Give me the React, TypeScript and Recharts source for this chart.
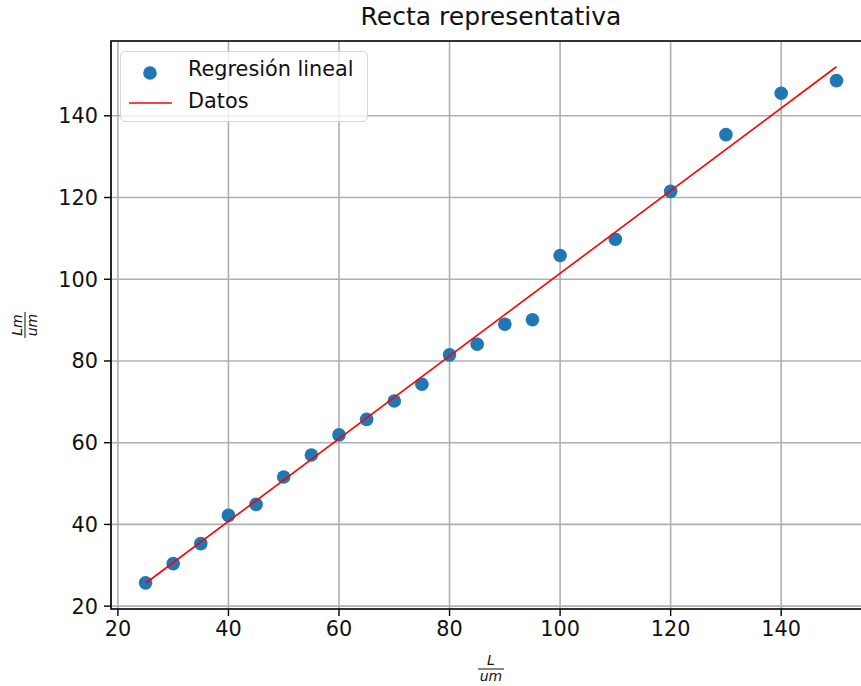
import React from "react";
import {
  ScatterChart,
  Scatter,
  XAxis,
  YAxis,
  CartesianGrid,
  ReferenceArea,
  Label,
} from "recharts";

// Measured points
const xValues = [25, 30, 35, 40, 45, 50, 55, 60, 65, 70, 75, 80, 85, 90, 95, 100, 110, 120, 130, 140, 150];
const yValues = [25.7, 30.4, 35.3, 42.2, 44.9, 51.6, 57.0, 61.9, 65.7, 70.2, 74.3, 81.5, 84.1, 89.0, 90.1, 105.8, 109.8, 121.5, 135.4, 145.5, 148.6];

// Fitted straight line (end points)
const fitX = [25, 150];
const fitY = [25.6, 152.0];

const xTicks = [20, 40, 60, 80, 100, 120, 140];
const yTicks = [20, 40, 60, 80, 100, 120, 140];

const scatterName = "Regresión lineal";
const lineName = "Datos";
const titleText = "Recta representativa";

const xDomain: [number, number] = [18.75, 156.25];
const yDomain: [number, number] = [19.3, 158.3];

const points = xValues.map((x, i) => ({ x, y: yValues[i] }));
const fitPoints = fitX.map((x, i) => ({ x, y: fitY[i] }));

const FONT = "'DejaVu Sans', sans-serif";
const BLUE = "#1f77b4";
const RED = "#ff0000";
const TEXT = "#111";

const XFraction = (props: any) => {
  const vb = props.viewBox || {};
  const cx = vb.x + vb.width / 2;
  const y0 = vb.y;
  return (
    <g fontFamily={FONT} fontStyle="italic" fill={TEXT} fontSize={14}>
      <text x={cx} y={y0 + 56} textAnchor="middle">L</text>
      <line x1={cx - 13} x2={cx + 13} y1={y0 + 60} y2={y0 + 60} stroke={TEXT} strokeWidth={1} />
      <text x={cx} y={y0 + 72} textAnchor="middle">um</text>
    </g>
  );
};

const YFraction = (props: any) => {
  const vb = props.viewBox || {};
  const cy = vb.y + vb.height / 2;
  const cx = 25;
  return (
    <g fontFamily={FONT} fontStyle="italic" fill={TEXT} fontSize={14} transform={`rotate(-90, ${cx}, ${cy})`}>
      <text x={cx} y={cy - 3} textAnchor="middle">Lm</text>
      <line x1={cx - 13} x2={cx + 13} y1={cy} y2={cy} stroke={TEXT} strokeWidth={1} />
      <text x={cx} y={cy + 12} textAnchor="middle">um</text>
    </g>
  );
};

const LegendBox = () => (
  <div
    style={{
      position: "absolute",
      left: 120,
      top: 51,
      width: 246,
      height: 69,
      border: "1px solid #d6d6d6",
      borderRadius: 5,
      background: "rgba(255,255,255,0.8)",
      fontFamily: FONT,
      fontSize: 20.8,
      color: TEXT,
      zIndex: 2,
    }}
  >
    <svg width={60} height={69} style={{ position: "absolute", left: 0, top: 0 }}>
      <circle cx={29} cy={21} r={6.8} fill={BLUE} />
      <line x1={8} x2={51} y1={51} y2={51} stroke={RED} strokeWidth={1.6} />
    </svg>
    <div style={{ position: "absolute", left: 67, top: 4, whiteSpace: "nowrap", lineHeight: "26px" }}>{scatterName}</div>
    <div style={{ position: "absolute", left: 67, top: 36, whiteSpace: "nowrap", lineHeight: "26px" }}>{lineName}</div>
  </div>
);

export default function App() {
  return (
    <div
      style={{
        position: "absolute",
        left: 0,
        top: 0,
        width: 861,
        height: 686,
        overflow: "hidden",
        background: "#fff",
      }}
    >
      <div
        style={{
          position: "absolute",
          left: 0,
          width: 982,
          top: 0,
          textAlign: "center",
          fontFamily: FONT,
          fontSize: 25,
          lineHeight: "34px",
          color: TEXT,
          zIndex: 2,
        }}
      >
        {titleText}
      </div>
      <LegendBox />
      <ScatterChart
        width={880}
        height={686}
        margin={{ top: 41, right: 9, bottom: 0, left: 0 }}
      >
        <CartesianGrid stroke="#b0b0b0" strokeWidth={1.6} />
        <XAxis
          type="number"
          dataKey="x"
          domain={xDomain}
          ticks={xTicks}
          allowDataOverflow
          axisLine={false}
          tickLine={{ stroke: "#000", strokeWidth: 1.4 }}
          tickSize={7}
          tickMargin={5}
          height={77}
          tick={{ fill: TEXT, fontFamily: FONT, fontSize: 20.8 }}
        >
          <Label content={<XFraction />} />
        </XAxis>
        <YAxis
          type="number"
          dataKey="y"
          domain={yDomain}
          ticks={yTicks}
          allowDataOverflow
          axisLine={false}
          tickLine={{ stroke: "#000", strokeWidth: 1.4 }}
          tickSize={7}
          tickMargin={6}
          width={111}
          tick={{ fill: TEXT, fontFamily: FONT, fontSize: 20.8 }}
        >
          <Label content={<YFraction />} />
        </YAxis>
        <Scatter
          name={scatterName}
          data={points}
          fill={BLUE}
          isAnimationActive={false}
          shape={(p: any) => <circle cx={p.cx} cy={p.cy} r={6.8} fill={BLUE} />}
        />
        <Scatter
          name={lineName}
          data={fitPoints}
          line={{ stroke: RED, strokeWidth: 1.6 }}
          isAnimationActive={false}
          shape={() => <g />}
        />
        <ReferenceArea
          x1={xDomain[0]}
          x2={xDomain[1]}
          y1={yDomain[0]}
          y2={yDomain[1]}
          fill="none"
          stroke="#000"
          strokeWidth={1.6}
          ifOverflow="visible"
        />
      </ScatterChart>
    </div>
  );
}
